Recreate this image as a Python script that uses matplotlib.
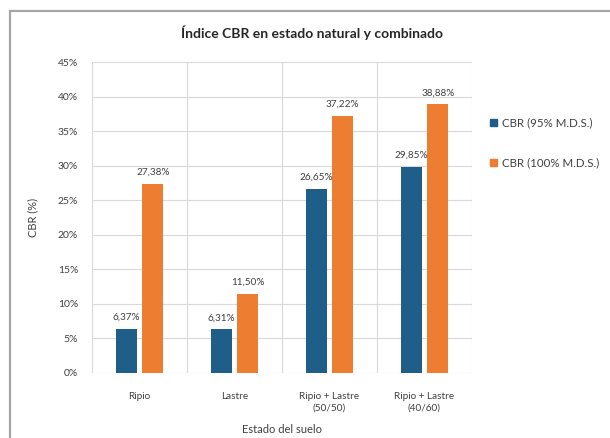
import matplotlib
matplotlib.use("Agg")
import matplotlib.pyplot as plt
from matplotlib.patches import Rectangle, Patch
from matplotlib.ticker import FuncFormatter, FixedLocator
import numpy as np

categories = ["Ripio", "Lastre", "Ripio + Lastre\n(50/50)", "Ripio + Lastre\n(40/60)"]
series_names = ["CBR (95% M.D.S.)", "CBR (100% M.D.S.)"]
cbr95 = [6.37, 6.31, 26.65, 29.85]
cbr100 = [27.38, 11.50, 37.22, 38.88]
yticks = [0, 5, 10, 15, 20, 25, 30, 35, 40, 45]

blue = "#1F5E88"
orange = "#ED7D31"
text_col = "#404040"
grid_col = "#D9D9D9"

plt.rcParams['font.family'] = ['Lato', 'DejaVu Sans']

fig = plt.figure(figsize=(6.1, 4.38), dpi=100)
ax = fig.add_axes([92/610, 1-373/438, 380/610, 311/438])

x = np.arange(len(categories))
w = 0.22
off = 0.14
b1 = ax.bar(x - off, cbr95, width=w, color=blue, zorder=3)
b2 = ax.bar(x + off, cbr100, width=w, color=orange, zorder=3)

for bars, vals in ((b1, cbr95), (b2, cbr100)):
    for r, v in zip(bars, vals):
        ax.annotate(f"{v:.2f}%".replace(".", ","),
                    (r.get_x() + r.get_width()/2, v),
                    xytext=(0, 5), textcoords="offset points",
                    ha="center", va="bottom", fontsize=7.2, color=text_col)

ax.set_xlim(-0.5, len(categories) - 0.5)
ax.set_ylim(0, 45)
ax.set_yticks(yticks)
ax.yaxis.set_major_formatter(FuncFormatter(lambda v, p: f"{v:.0f}%"))
ax.set_xticks(x)
ax.set_xticklabels(categories, linespacing=1.35)
ax.xaxis.set_minor_locator(FixedLocator(np.arange(-0.5, len(categories), 1.0)))
ax.tick_params(axis="x", which="both", length=0, pad=14, labelsize=7.2, colors=text_col)
ax.tick_params(axis="y", length=0, pad=10, labelsize=7.5, colors=text_col)
ax.grid(axis="y", color=grid_col, lw=0.8, zorder=0)
ax.grid(axis="x", which="minor", color=grid_col, lw=0.8, zorder=0)
for s in ax.spines.values():
    s.set_visible(False)

ax.set_ylabel("CBR (%)", fontsize=8, color=text_col, labelpad=14)
ax.set_xlabel("Estado del suelo", fontsize=8, color=text_col, labelpad=8)

fig.text(312/610, 1-33/438, "Índice CBR en estado natural y combinado",
         ha="center", va="center", fontsize=10, fontweight="bold", color="#262626")

handles = [Patch(color=blue), Patch(color=orange)]
fig.legend(handles, series_names, loc="upper left", bbox_to_anchor=(480/610, 1-107/438),
           frameon=False, fontsize=8.3, handlelength=0.55, handleheight=0.55,
           handletextpad=0.5, labelspacing=2.5, labelcolor=text_col)

border = Rectangle((10/610, -0.1), 1.2, 1-11/438+0.1, transform=fig.transFigure,
                   fill=False, ec="#A6A6A6", lw=1.6, clip_on=False)
fig.patches.append(border)

fig.savefig("out.png", dpi=100)
